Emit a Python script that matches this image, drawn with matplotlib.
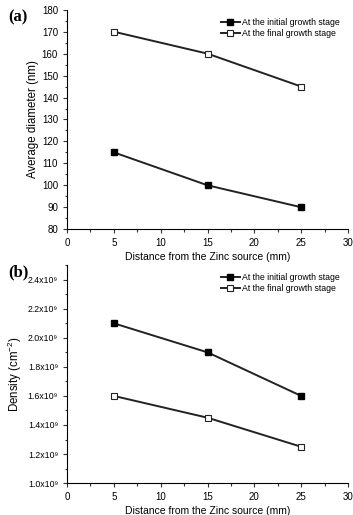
import matplotlib
matplotlib.use('Agg')
import matplotlib.pyplot as plt
from matplotlib.ticker import MultipleLocator, FuncFormatter

plt.rcParams['font.family'] = ['Liberation Sans', 'DejaVu Sans']
plt.rcParams['mathtext.fontset'] = 'custom'
plt.rcParams['mathtext.rm'] = 'Liberation Sans'

distance = [5, 15, 25]
diam_initial = [115, 100, 90]
diam_final = [170, 160, 145]
dens_initial = [2.1e9, 1.9e9, 1.6e9]
dens_final = [1.6e9, 1.45e9, 1.25e9]
labels = ['At the initial growth stage', 'At the final growth stage']

fig = plt.figure(figsize=(3.53, 5.15), dpi=100)
ax1 = fig.add_axes([0.190, 0.555, 0.796, 0.426])
ax2 = fig.add_axes([0.190, 0.062, 0.796, 0.423])


def style(ax):
    for s in ['top', 'right']:
        ax.spines[s].set_visible(False)
    ax.set_xlim(0, 30)
    ax.xaxis.set_major_locator(MultipleLocator(5))
    ax.xaxis.set_minor_locator(MultipleLocator(2.5))
    ax.tick_params(which='both', direction='out', labelsize=7, color='#333333', width=0.8)
    ax.tick_params(which='major', length=3)
    ax.tick_params(which='minor', length=1.8)
    ax.set_xlabel('Distance from the Zinc source (mm)', fontsize=7.5, labelpad=3)


def plot_pair(ax, a, b):
    ax.plot(distance, a, color='#222222', lw=1.4, marker='s', ms=4.5,
            mfc='black', mec='black', label=labels[0])
    ax.plot(distance, b, color='#222222', lw=1.4, marker='s', ms=4.5,
            mfc='white', mec='#222222', mew=0.8, label=labels[1])
    ax.legend(loc='upper right', frameon=False, fontsize=6.3, handlelength=2.2,
              handletextpad=0.3, borderaxespad=0.6, labelspacing=0.25,
              borderpad=0.3)


plot_pair(ax1, diam_initial, diam_final)
style(ax1)
ax1.set_ylim(80, 180)
ax1.yaxis.set_major_locator(MultipleLocator(10))
ax1.yaxis.set_minor_locator(MultipleLocator(5))
ax1.set_ylabel('Average diameter (nm)', fontsize=8.3)
ax1.yaxis.set_label_coords(-0.10, 0.5)

plot_pair(ax2, dens_initial, dens_final)
style(ax2)
ax2.set_ylim(1.0e9, 2.5e9)
ax2.yaxis.set_major_locator(MultipleLocator(0.2e9))
ax2.yaxis.set_minor_locator(MultipleLocator(0.1e9))
ax2.yaxis.set_major_formatter(FuncFormatter(lambda v, p: '%.1fx10\u2079' % (v / 1e9)))
ax2.tick_params(axis='y', labelsize=6.3)
ax2.set_ylabel('Density (cm$^{-2}$)', fontsize=8.3)
ax2.yaxis.set_label_coords(-0.155, 0.5)

fig.text(0.022, 0.958, '(a)', fontsize=12, fontweight='bold', family='Liberation Serif')
fig.text(0.022, 0.464, '(b)', fontsize=12, fontweight='bold', family='Liberation Serif')

fig.savefig('out.png', dpi=100)
